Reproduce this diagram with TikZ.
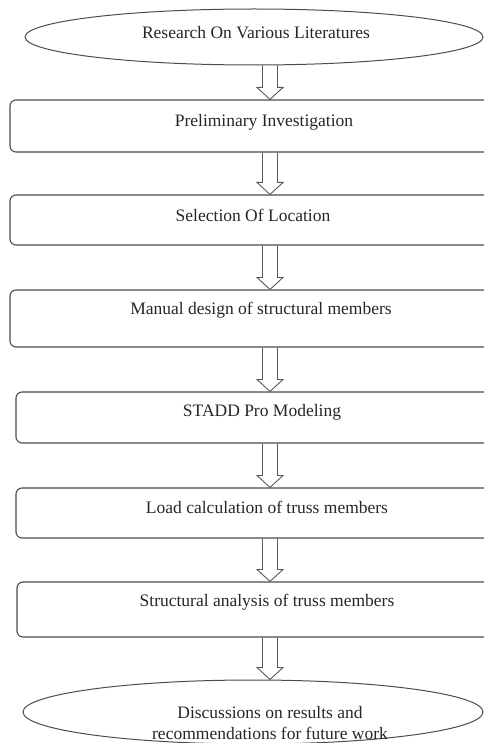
\documentclass[tikz,border=0pt]{standalone}
\usepackage{fontspec}
\setmainfont{Liberation Serif}
\usetikzlibrary{shapes.geometric,calc}
\begin{document}
\begin{tikzpicture}[x=1pt,y=-1pt,
  boxstyle/.style={draw=black!70, line width=1.1pt, rounded corners=6pt, rectangle, inner sep=0pt},
  ovalstyle/.style={draw=black!70, line width=1pt, ellipse, inner sep=0pt},
  txt/.style={font=\fontsize{17.5}{21}\selectfont, text=black!85, align=center},
  hollow/.style={draw=black!65, line width=0.9pt, line join=miter}]
\useasboundingbox (0,0) rectangle (484,743);
\clip (0,0) rectangle (484,743);

\node[ovalstyle, minimum width=458pt, minimum height=56pt,
  label={[txt, xshift=2pt, yshift=4pt]center:Research On Various Literatures}] (e1) at (254,37) {};

\node[boxstyle, minimum width=530pt, minimum height=52pt,
  label={[txt, xshift=-11pt, yshift=4pt]center:Preliminary Investigation}] (b1) at (275,126) {};
\node[boxstyle, minimum width=530pt, minimum height=50pt,
  label={[txt, xshift=-22pt, yshift=5pt]center:Selection Of Location}] (b2) at (275,220) {};
\node[boxstyle, minimum width=530pt, minimum height=57pt,
  label={[txt, xshift=-14pt, yshift=8.5pt]center:Manual design of structural members}] (b3) at (275,318.5) {};
\node[boxstyle, minimum width=524pt, minimum height=51pt,
  label={[txt, xshift=-16pt, yshift=5.5pt]center:STADD Pro Modeling}] (b4) at (278,417.5) {};
\node[boxstyle, minimum width=524pt, minimum height=50pt,
  label={[txt, xshift=-11pt, yshift=6pt]center:Load calculation of truss members}] (b5) at (278,513) {};
\node[boxstyle, minimum width=523pt, minimum height=55pt,
  label={[txt, xshift=-11.5pt, yshift=7.5pt]center:Structural analysis of truss members}] (b6) at (278.5,609.5) {};

\node[ovalstyle, minimum width=460pt, minimum height=64pt,
  label={[txt, xshift=17pt, yshift=-11pt]center:Discussions on results and\\recommendations for future work}] (e2) at (253,712) {};

\foreach \a/\b in {e1/b1,b1/b2,b2/b3,b3/b4,b4/b5,b5/b6,b6/e2}{
  \draw[hollow] let \p1=(\a.south), \p2=(\b.north) in
    (262.5pt,\y1) -- (262.5pt,\y2+12pt) -- (257pt,\y2+12pt) -- (270pt,\y2)
    -- (283pt,\y2+12pt) -- (277.5pt,\y2+12pt) -- (277.5pt,\y1);
}
\end{tikzpicture}
\end{document}
